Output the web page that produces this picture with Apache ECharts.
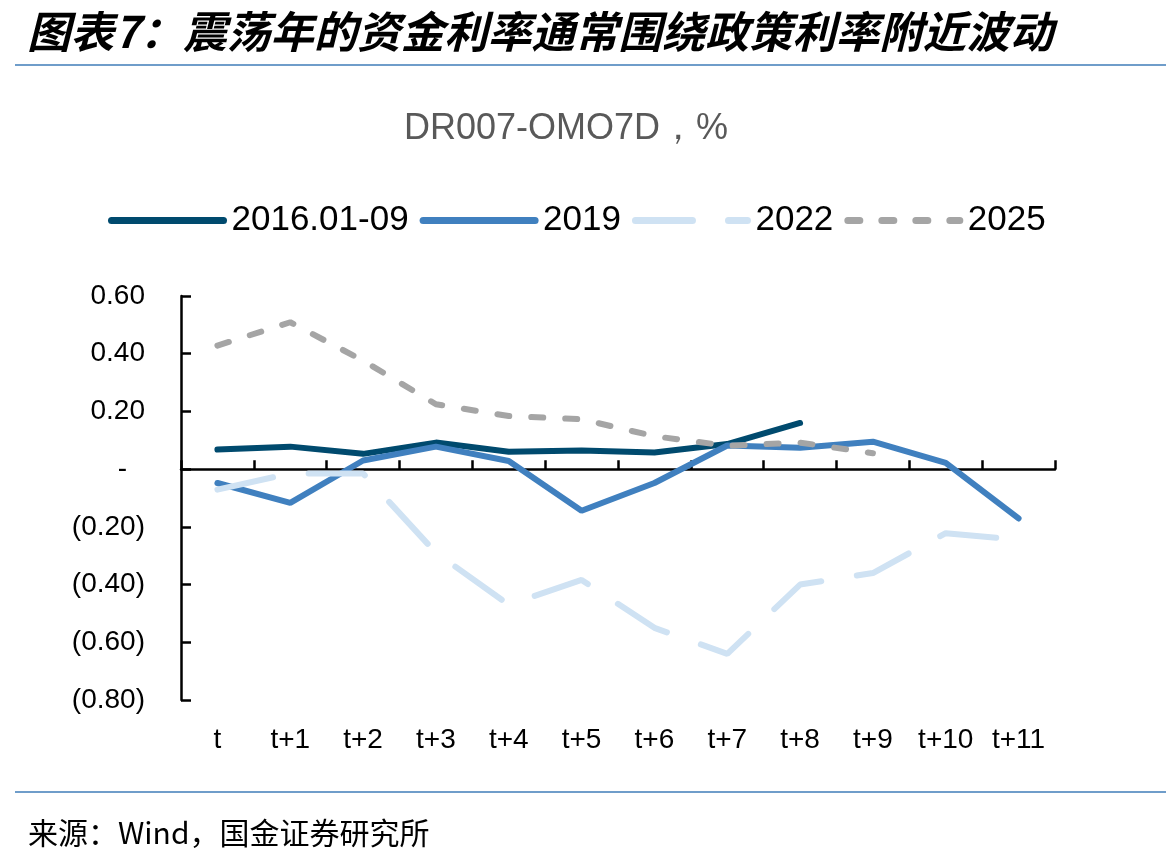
<!DOCTYPE html>
<html>
<head>
<meta charset="utf-8">
<script src="https://cdn.jsdelivr.net/npm/echarts@6/dist/echarts.min.js"></script>
<style>
  html, body { margin: 0; padding: 0; background: #fff; }
  #chart { width: 1166px; height: 862px; }
</style>
</head>
<body>
<div id="chart"></div>
<script>
// 数据
const categories = ['t', 't+1', 't+2', 't+3', 't+4', 't+5', 't+6', 't+7', 't+8', 't+9', 't+10', 't+11'];
const s2016 = [0.068, 0.078, 0.053, 0.092, 0.06, 0.065, 0.058, 0.087, 0.16];
const s2019 = [-0.048, -0.117, 0.03, 0.078, 0.028, -0.144, -0.048, 0.082, 0.074, 0.095, 0.022, -0.171];
const s2022 = [-0.071, -0.015, -0.015, -0.29, -0.47, -0.384, -0.55, -0.64, -0.40, -0.36, -0.222, -0.245];
const s2025 = [0.428, 0.509, 0.376, 0.225, 0.184, 0.173, 0.114, 0.081, 0.092, 0.055];
const seriesNames = ['2016.01-09', '2019', '2022', '2025'];

const latin = 'Liberation Sans, Arial, sans-serif';
const cjk = 'Noto Sans CJK SC';

// 1. 初始化echarts实例
const myEcharts = echarts.init(document.getElementById('chart'));

// 2. 配置项
const option = {
    backgroundColor: '#fff',
    animation: false,
    title: [
        {
            text: '图表7：震荡年的资金利率通常围绕政策利率附近波动',
            left: 22, top: 5,
            textStyle: { fontFamily: cjk, fontSize: 43.5, fontWeight: 'bold', fontStyle: 'italic', color: '#000' }
        },
        {
            text: 'DR007-OMO7D，%',
            left: 399, top: 106,
            textStyle: { fontFamily: latin, fontSize: 36, fontWeight: 'normal', color: '#595959' }
        },
        {
            text: '来源：Wind，国金证券研究所',
            left: 23, top: 813,
            textStyle: { fontFamily: cjk, fontSize: 30, fontWeight: 'normal', color: '#000' }
        }
    ],
    graphic: [
        { type: 'line', shape: { x1: 15, y1: 65, x2: 1166, y2: 65 }, style: { stroke: '#3f7cb9', lineWidth: 1.5 } },
        { type: 'line', shape: { x1: 15, y1: 792, x2: 1166, y2: 792 }, style: { stroke: '#3f7cb9', lineWidth: 1.5 } }
    ],
    legend: {
        left: 103, top: 198,
        itemWidth: 112, itemHeight: 14, itemGap: 11,
        data: seriesNames,
        itemStyle: { opacity: 0 },
        lineStyle: { width: 7, cap: 'round' },
        textStyle: { fontFamily: latin, fontSize: 35, color: '#000', padding: [0, 0, 0, 3] }
    },
    grid: { left: 181, right: 111, top: 296, bottom: 162 },
    xAxis: [
        {
            // 底部的标签
            type: 'category',
            data: categories,
            position: 'bottom',
            axisLine: { show: false, onZero: false },
            axisTick: { show: false },
            axisLabel: { margin: 26, fontFamily: latin, fontSize: 28, color: '#000' }
        },
        {
            // 零轴上的轴线和刻度
            type: 'category',
            data: categories,
            position: 'bottom',
            axisLine: { show: true, onZero: true, lineStyle: { color: '#000', width: 2.5 } },
            axisTick: { show: true, inside: true, length: 9, lineStyle: { color: '#000', width: 2.5 } },
            axisLabel: { show: false }
        }
    ],
    yAxis: {
        type: 'value',
        min: -0.8, max: 0.6, interval: 0.2,
        splitLine: { show: false },
        axisLine: { show: true, lineStyle: { color: '#000', width: 2.5 } },
        axisTick: { show: true, inside: true, length: 10, lineStyle: { color: '#000', width: 2.5 } },
        axisLabel: {
            margin: 36,
            fontFamily: latin, fontSize: 28, color: '#000',
            formatter: function (v) {
                if (Math.abs(v) < 1e-9) return '{z|-}';
                const s = Math.abs(v).toFixed(2);
                return v < 0 ? '(' + s + ')' : s;
            },
            rich: { z: { fontFamily: latin, fontSize: 28, color: '#000', padding: [0, 18, 0, 0] } }
        }
    },
    series: [
        {
            name: seriesNames[0], type: 'line', data: s2016, symbol: 'none',
            lineStyle: { color: '#004a6e', width: 6, cap: 'round' },
            itemStyle: { color: '#004a6e' }
        },
        {
            name: seriesNames[1], type: 'line', data: s2019, symbol: 'none',
            lineStyle: { color: '#4080bf', width: 6, cap: 'round' },
            itemStyle: { color: '#4080bf' }
        },
        {
            name: seriesNames[2], type: 'line', data: s2022, symbol: 'none',
            lineStyle: { color: '#cfe2f3', width: 6, type: [57, 36], cap: 'round' },
            itemStyle: { color: '#cfe2f3' }
        },
        {
            name: seriesNames[3], type: 'line', data: s2025, symbol: 'none',
            lineStyle: { color: '#a5a5a5', width: 6, type: [12, 22], cap: 'round' },
            itemStyle: { color: '#a5a5a5' }
        }
    ]
};

// 3. 显示图表
myEcharts.setOption(option);
</script>
</body>
</html>
